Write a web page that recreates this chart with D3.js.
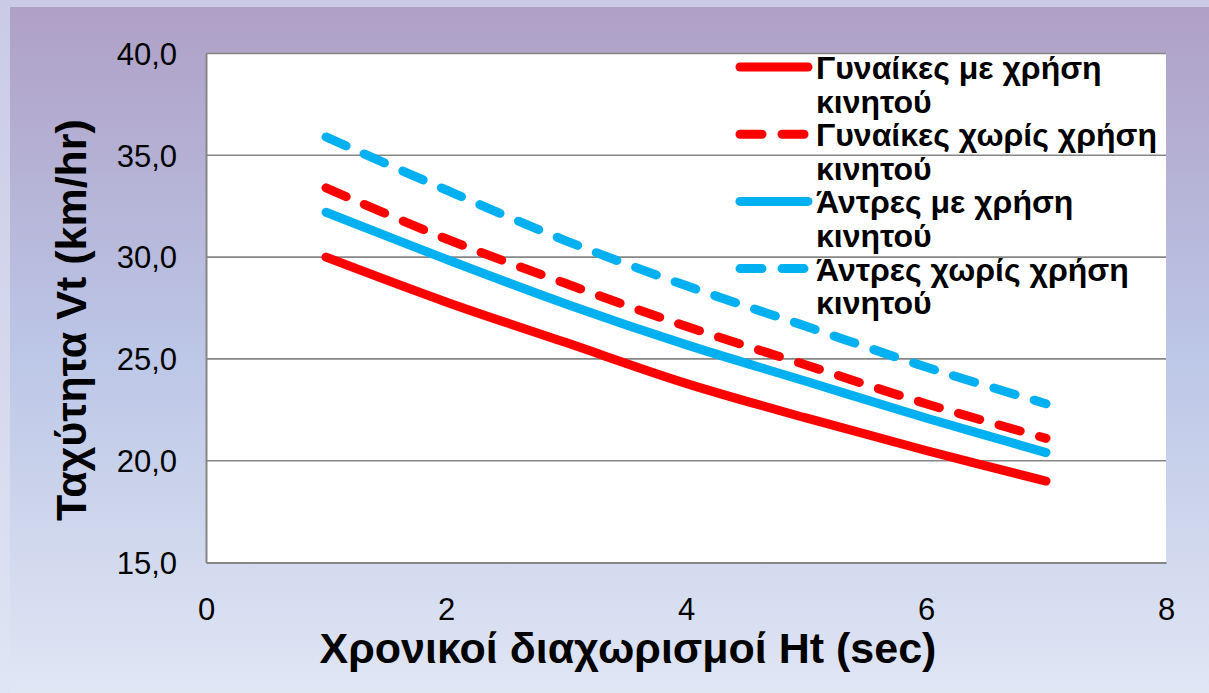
<!DOCTYPE html>
<html><head><meta charset="utf-8">
<script src="https://cdn.jsdelivr.net/npm/d3@7/dist/d3.min.js"></script>
<style>html,body{margin:0;padding:0;background:#fff;}svg{display:block;}</style>
</head><body><svg id="c" width="1209" height="693"></svg>
<script>
const xValues = [1, 2, 3, 4, 5, 6, 7];
const womenWithPhone = [30.0, 27.8, 25.8, 23.8, 22.1, 20.5, 19.0];
const womenNoPhone   = [33.4, 30.9, 28.7, 26.6, 24.7, 22.8, 21.1];
const menWithPhone   = [32.2, 29.9, 27.7, 25.7, 23.9, 22.1, 20.4];
const menNoPhone     = [35.9, 33.3, 30.8, 28.6, 26.6, 24.6, 22.8];
const seriesNames = ["Γυναίκες με χρήση κινητού", "Γυναίκες χωρίς χρήση κινητού", "Άντρες με χρήση κινητού", "Άντρες χωρίς χρήση κινητού"];
const yTicks = [15, 20, 25, 30, 35, 40];
const xTicks = [0, 2, 4, 6, 8];
const xTitle = "Χρονικοί διαχωρισμοί Ht (sec)";
const yTitle = "Ταχύτητα Vt (km/hr)";

const series = [
  {name: seriesNames[0], values: womenWithPhone, color: "#ff0000", dashed: false},
  {name: seriesNames[1], values: womenNoPhone, color: "#ff0000", dashed: true},
  {name: seriesNames[2], values: menWithPhone, color: "#00b0f0", dashed: false},
  {name: seriesNames[3], values: menNoPhone, color: "#00b0f0", dashed: true}
];

const svg = d3.select("#c");
const W = 1209, H = 693;
const font = "'Liberation Sans', Arial, sans-serif";

const defs = svg.append("defs");
const g1 = defs.append("linearGradient").attr("id","bg").attr("x1",0).attr("y1",0).attr("x2",0).attr("y2",1);
g1.append("stop").attr("offset","0%").attr("stop-color","#afa0c6");
g1.append("stop").attr("offset","50%").attr("stop-color","#bcc6e6");
g1.append("stop").attr("offset","100%").attr("stop-color","#e0e6f4");
const g2 = defs.append("linearGradient").attr("id","bg2").attr("x1",0).attr("y1",0).attr("x2",0).attr("y2",1);
g2.append("stop").attr("offset","0%").attr("stop-color","#cacae6");
g2.append("stop").attr("offset","100%").attr("stop-color","#dfe5f4");

svg.append("rect").attr("width",W).attr("height",H).attr("fill","url(#bg2)");
svg.append("rect").attr("x",10).attr("y",7).attr("width",W-10).attr("height",H-7).attr("fill","url(#bg)");

const x = d3.scaleLinear().domain([0,8]).range([206,1166]);
const y = d3.scaleLinear().domain([15,40]).range([562.5,53.5]);

svg.append("rect").attr("x",x(0)).attr("y",y(40)).attr("width",x(8)-x(0)).attr("height",y(15)-y(40)).attr("fill","#fff");

// gridlines
svg.append("g").selectAll("line").data(yTicks.filter(d=>d>15)).join("line")
  .attr("x1",x(0)).attr("x2",x(8)).attr("y1",d=>y(d)).attr("y2",d=>y(d))
  .attr("stroke","#868686").attr("stroke-width",1.6);

// axes
const yAxis = svg.append("g").attr("transform",`translate(${x(0)},0)`)
  .call(d3.axisLeft(y).tickValues(yTicks).tickSize(0).tickPadding(29).tickFormat(d=>d3.format(".1f")(d).replace(".",",")));
yAxis.select(".domain").attr("stroke","#868686").attr("stroke-width",2);
yAxis.selectAll("text").attr("font-family",font).attr("font-size",31).attr("fill","#000").attr("dy","0.35em");

const xAxis = svg.append("g").attr("transform",`translate(0,${y(15)})`)
  .call(d3.axisBottom(x).tickValues(xTicks).tickSize(0).tickPadding(35).tickFormat(d3.format("d")));
xAxis.select(".domain").attr("stroke","#868686").attr("stroke-width",2);
xAxis.selectAll("text").attr("font-family",font).attr("font-size",31).attr("fill","#000").attr("dy","0.71em");

// lines
const line = d3.line().x((d,i)=>x(xValues[i])).y(d=>y(d)).curve(d3.curveCatmullRom.alpha(0.5));
svg.append("g").selectAll("path").data(series).join("path")
  .attr("d",d=>line(d.values))
  .attr("fill","none").attr("stroke",d=>d.color).attr("stroke-width",9)
  .attr("stroke-linecap","round").attr("stroke-linejoin","round")
  .attr("stroke-dasharray",d=>d.dashed?"22,20":null);

// legend
const leg = svg.append("g");
series.forEach((s,i)=>{
  const ly = 67 + i*67.2;
  leg.append("line").attr("x1",740).attr("x2",808).attr("y1",ly).attr("y2",ly)
    .attr("stroke",s.color).attr("stroke-width",9).attr("stroke-linecap","round")
    .attr("stroke-dasharray",s.dashed?"22,20":null);
  const parts = s.name.split(" ");
  const l1 = parts.slice(0,-1).join(" "), l2 = parts[parts.length-1];
  const t = leg.append("text").attr("font-family",font).attr("font-weight","bold").attr("font-size",32).attr("fill","#000");
  t.append("tspan").attr("x",816).attr("y",ly+12).text(l1);
  t.append("tspan").attr("x",816).attr("y",ly+45.7).text(l2);
});

// titles
svg.append("text").attr("x",628).attr("y",663).attr("text-anchor","middle")
  .attr("font-family",font).attr("font-weight","bold").attr("font-size",43).attr("fill","#000").text(xTitle);
svg.append("text").attr("transform","translate(86,320) rotate(-90)").attr("text-anchor","middle")
  .attr("font-family",font).attr("font-weight","bold").attr("font-size",43).attr("fill","#000").text(yTitle);
</script></body></html>
